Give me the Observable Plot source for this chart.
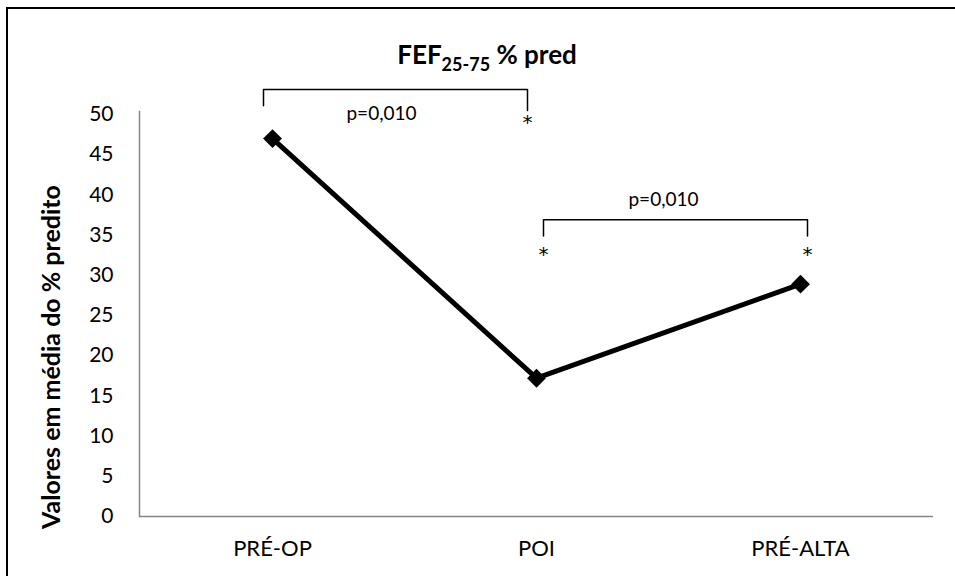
<!DOCTYPE html>
<html><head><meta charset="utf-8">
<script src="https://cdn.jsdelivr.net/npm/d3@7"></script>
<script src="https://cdn.jsdelivr.net/npm/@observablehq/plot@0.6"></script>
<style>
body{margin:0;overflow:hidden;background:#fff;font-family:Lato,sans-serif}
#wrap{position:relative;width:955px;height:576px}
#chart{position:absolute;left:0;top:0}
#frame{position:absolute;left:6px;top:7px;width:980px;height:600px;border-left:2px solid #000;border-top:2px solid #000;pointer-events:none}
#title{position:absolute;left:287px;width:400px;top:41px;text-align:center;font-weight:bold;font-size:26px;line-height:1;color:#000}
#title sub{font-size:18px;vertical-align:-7px;line-height:0}
</style>
</head><body>
<div id="wrap"><div id="chart"></div><div id="frame"></div>
<div id="title">FEF<sub>25-75</sub> % pred</div></div>
<script>
const categories = ["PRÉ-OP", "POI", "PRÉ-ALTA"];
const values = [47.0, 17.2, 28.9];
const yTicks = [0, 5, 10, 15, 20, 25, 30, 35, 40, 45, 50];
const yLabel = "Valores em média do % predito";
const pLabels = ["p=0,010", "p=0,010"];
const bracket1 = [{x: "PRÉ-OP", y: 51.1}, {x: "PRÉ-OP", y: 53.1}, {x: "POI", y: 53.1}, {x: "POI", y: 50.5}];
const bracket2 = [{x: "POI", y: 34.9}, {x: "POI", y: 36.9}, {x: "PRÉ-ALTA", y: 36.9}, {x: "PRÉ-ALTA", y: 34.9}];
const stars1 = [{x: "POI", y: 49.0}];
const stars2 = [{x: "POI", y: 32.6}, {x: "PRÉ-ALTA", y: 32.6}];

const data = categories.map((c, i) => ({cat: c, val: values[i]}));
const font = "Lato, sans-serif";

const chart = Plot.plot({
  width: 955, height: 576,
  marginLeft: 139, marginRight: 22, marginTop: 111, marginBottom: 60,
  style: {fontFamily: font, color: "#000", background: "transparent", overflow: "visible"},
  x: {type: "point", domain: categories, padding: 0.5},
  y: {domain: [0, 50.37]},
  marks: [
    Plot.frame({anchor: "left", stroke: "#868686", strokeWidth: 1.5}),
    Plot.ruleY([0], {stroke: "#868686", strokeWidth: 1.5}),
    Plot.axisY(yTicks, {tickSize: 0, tickPadding: 26, fontSize: 21, label: null, fill: "#000"}),
    Plot.axisX({tickSize: 0, tickPadding: 24, fontSize: 22, label: null, fill: "#000"}),
    Plot.text([yLabel], {frameAnchor: "left", textAnchor: "middle", dx: -88, dy: 43, rotate: -90, fontSize: 25, fontWeight: "bold", fill: "#000"}),
    Plot.line(data, {x: "cat", y: "val", stroke: "#000", strokeWidth: 5}),
    Plot.dot(data, {x: "cat", y: "val", symbol: "diamond2", r: 8.5, fill: "#000", stroke: "none"}),
    Plot.line(bracket1, {x: "x", y: "y", dx: -9, stroke: "#000", strokeWidth: 1.5}),
    Plot.line(bracket2, {x: "x", y: "y", dx: 7, stroke: "#000", strokeWidth: 1.5}),
    Plot.text(stars1, {x: "x", y: "y", dx: -9, text: () => "*", fontSize: 20, fontFamily: "DejaVu Sans", fill: "#000"}),
    Plot.text(stars2, {x: "x", y: "y", dx: 7, text: () => "*", fontSize: 20, fontFamily: "DejaVu Sans", fill: "#000"}),
    Plot.text([pLabels[0]], {x: () => "PRÉ-OP", y: () => 50.1, dx: 109, fontSize: 19, fill: "#000"}),
    Plot.text([pLabels[1]], {x: () => "POI", y: () => 39.4, dx: 127, fontSize: 19, fill: "#000"})
  ]
});
document.getElementById("chart").appendChild(chart);
</script>
</body></html>
